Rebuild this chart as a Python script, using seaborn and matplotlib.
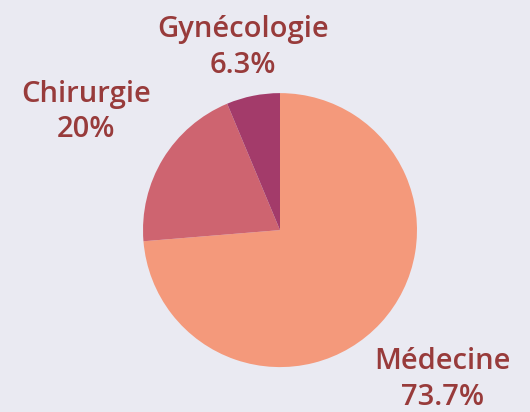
import numpy as np
import matplotlib
matplotlib.use('Agg')
import matplotlib.pyplot as plt
import seaborn as sns

services = ['Médecine', 'Chirurgie', 'Gynécologie']
shares = [73.7, 20.0, 6.3]
share_labels = ['73.7%', '20%', '6.3%']

sns.set_theme(style='dark', rc={'figure.facecolor': '#EAEAF2', 'axes.facecolor': '#EAEAF2'})
plt.rcParams['font.family'] = ['Open Sans', 'DejaVu Sans']

colors = ['#F4997B', '#CE6470', '#A33B6A']
text_color = '#983B3B'
label_dist = [1.61, 1.66, 1.36]

fig = plt.figure(figsize=(5.3, 4.12), dpi=100)
ax = fig.add_axes([0.2698, 0.109, 0.517, 0.665])

wedges, _ = ax.pie(shares, colors=colors, startangle=90, counterclock=False,
                   radius=1, wedgeprops={'linewidth': 0})

for w, name, pct, d in zip(wedges, services, share_labels, label_dist):
    mid = np.deg2rad((w.theta1 + w.theta2) / 2)
    ax.text(d * np.cos(mid), d * np.sin(mid), f'{name}\n{pct}',
            ha='center', va='center', fontsize=21, fontweight='semibold',
            color=text_color, linespacing=1.3, clip_on=False)

ax.set_xlim(-1, 1)
ax.set_ylim(-1, 1)
ax.set_aspect('equal')
ax.axis('off')

fig.savefig('out.png', dpi=100, facecolor=fig.get_facecolor())
